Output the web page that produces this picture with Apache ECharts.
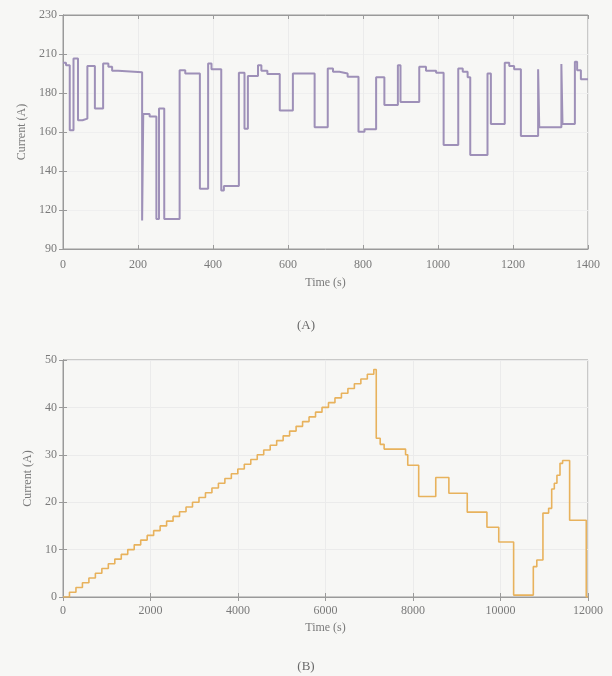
<!DOCTYPE html>
<html>
<head>
<meta charset="utf-8">
<script src="https://cdn.jsdelivr.net/npm/echarts@6/dist/echarts.min.js"></script>
<style>
  html, body { margin: 0; padding: 0; background: #f7f7f5; }
  #chart { width: 612px; height: 676px; }
</style>
</head>
<body>
<div id="chart"></div>
<script>
// (A) current profile, [time s, current A], value holds until next time
const currentA = [
  [0, 201.5], [8, 200], [18, 161], [28, 204], [40, 167], [52, 168], [65, 199.5],
  [85, 174], [107, 201], [121, 199], [131, 196.7], [147, 195.7], [211, 107],
  [214, 170.8], [231, 169.2], [249, 108], [256, 174], [270, 108], [311, 197],
  [326, 195], [365, 126], [387, 201], [396, 197.5], [422, 125], [429, 127.7],
  [469, 195.5], [484, 162], [493, 193.5], [520, 200], [529, 196.7], [545, 194.7],
  [578, 172.8], [613, 195], [671, 162.8], [706, 198], [720, 196], [737, 195],
  [759, 193], [788, 160.2], [804, 161.6], [835, 192.7], [857, 176.2], [893, 200],
  [900, 178], [950, 199], [968, 196.7], [995, 195.5], [1015, 152.2], [1054, 198],
  [1066, 196], [1079, 192.7], [1086, 146.2], [1132, 195], [1141, 164.8],
  [1178, 201.5], [1190, 199.5], [1203, 197.5], [1221, 157.6], [1267, 197.5],
  [1270, 162.8], [1329, 200.7], [1332, 164.8], [1365, 202], [1371, 197],
  [1381, 191.5], [1400, 191.5]
];
const yTicksA = [90, 120, 140, 160, 180, 210, 230];

// (B) staircase ramp then drive profile
const rampTimes = [
  0, 148, 296, 444, 592, 740, 888, 1036, 1184, 1332, 1480, 1628, 1776, 1924, 2072,
  2220, 2368, 2516, 2664, 2812, 2960, 3108, 3256, 3404, 3552, 3700, 3848, 3996,
  4144, 4292, 4440, 4588, 4736, 4884, 5032, 5180, 5328, 5476, 5624, 5772, 5920,
  6068, 6216, 6364, 6512, 6660, 6808, 6956, 7104
];
const rampLevels = [
  0, 1, 2, 3, 4, 5, 6, 7, 8, 9, 10, 11, 12, 13, 14, 15, 16, 17, 18, 19, 20, 21,
  22, 23, 24, 25, 26, 27, 28, 29, 30, 31, 32, 33, 34, 35, 36, 37, 38, 39, 40, 41,
  42, 43, 44, 45, 46, 47, 48
];
const driveB = [
  [7160, 33.5], [7250, 32.2], [7340, 31.2], [7830, 30], [7880, 27.8], [8130, 21.2],
  [8520, 25.2], [8820, 21.9], [9240, 17.9], [9690, 14.7], [9960, 11.6],
  [10300, 0.4], [10750, 6.4], [10830, 7.8], [10970, 17.7], [11100, 18.7],
  [11170, 22.8], [11230, 24], [11290, 25.7], [11360, 28.2], [11420, 28.8],
  [11580, 16.2], [11960, 0], [12000, 0]
];

const currentB = rampTimes.map((t, i) => [t, rampLevels[i]]).concat(driveB);

const serif = 'Liberation Serif';
const txt = '#7a7a7a';
const box = '#9a9a9a';

function xMain(grid, max, interval, margin, gap) {
  return {
    type: 'value', gridIndex: grid, min: 0, max: max, interval: interval,
    name: 'Time (s)', nameLocation: 'middle', nameGap: gap,
    nameTextStyle: { fontFamily: serif, fontSize: 12, color: txt },
    axisLine: { show: true, lineStyle: { color: box } },
    axisTick: { inside: true, length: 4, lineStyle: { color: box } },
    axisLabel: { fontFamily: serif, fontSize: 12, color: txt, margin: margin, formatter: v => String(v) },
    splitLine: { show: true, lineStyle: { color: '#ebebeb' } }
  };
}
function xMirror(grid, max, interval) {
  return {
    type: 'value', gridIndex: grid, position: 'top', min: 0, max: max, interval: interval,
    axisLine: { show: true, lineStyle: { color: box } },
    axisTick: { inside: true, length: 4, lineStyle: { color: box } },
    axisLabel: { show: false }, splitLine: { show: false }
  };
}

const tickPosA = yTicksA.map((v, i) => 90 + i * (230 - 90) / (yTicksA.length - 1));

const option = {
  backgroundColor: '#f7f7f5',
  animation: false,
  title: [
    { text: '(A)', left: 'center', top: 314, textStyle: { fontFamily: serif, fontSize: 13, fontWeight: 'normal', color: '#6a6a6a' } },
    { text: '(B)', left: 'center', top: 655, textStyle: { fontFamily: serif, fontSize: 13, fontWeight: 'normal', color: '#6a6a6a' } }
  ],
  grid: [
    { left: 63, right: 24, top: 15, height: 234, show: true, borderColor: box, backgroundColor: 'transparent' },
    { left: 63, right: 24, top: 360, height: 237, show: true, borderColor: box, backgroundColor: 'transparent' }
  ],
  xAxis: [
    xMain(0, 1400, 200, 10, 28),
    xMirror(0, 1400, 200),
    xMain(1, 12000, 2000, 8, 25),
    xMirror(1, 12000, 2000)
  ],
  yAxis: [
    {
      type: 'value', gridIndex: 0, min: 90, max: 230,
      name: 'Current (A)', nameLocation: 'middle', nameGap: 34,
      nameTextStyle: { fontFamily: serif, fontSize: 12, color: txt },
      axisLine: { show: true, lineStyle: { color: box } },
      axisTick: { inside: true, length: 4, customValues: tickPosA, lineStyle: { color: box } },
      axisLabel: {
        fontFamily: serif, fontSize: 12, color: txt, margin: 6,
        customValues: tickPosA,
        formatter: function (v) {
          let k = 0;
          tickPosA.forEach((p, i) => { if (Math.abs(p - v) < Math.abs(tickPosA[k] - v)) k = i; });
          return String(yTicksA[k]);
        }
      },
      splitLine: { show: true, lineStyle: { color: '#efefef' } }
    },
    {
      type: 'value', gridIndex: 0, position: 'right', min: 90, max: 230,
      axisLine: { show: true, lineStyle: { color: box } },
      axisTick: { inside: true, length: 4, customValues: tickPosA, lineStyle: { color: box } },
      axisLabel: { show: false }, splitLine: { show: false }
    },
    {
      type: 'value', gridIndex: 1, min: 0, max: 50, interval: 10,
      name: 'Current (A)', nameLocation: 'middle', nameGap: 28,
      nameTextStyle: { fontFamily: serif, fontSize: 12, color: txt },
      axisLine: { show: true, lineStyle: { color: box } },
      axisTick: { inside: true, length: 4, lineStyle: { color: box } },
      axisLabel: { fontFamily: serif, fontSize: 12, color: txt, margin: 6 },
      splitLine: { show: true, lineStyle: { color: '#ebebeb' } }
    },
    {
      type: 'value', gridIndex: 1, position: 'right', min: 0, max: 50, interval: 10,
      axisLine: { show: true, lineStyle: { color: box } },
      axisTick: { inside: true, length: 4, lineStyle: { color: box } },
      axisLabel: { show: false }, splitLine: { show: false }
    }
  ],
  series: [
    {
      type: 'line', xAxisIndex: 0, yAxisIndex: 0, step: 'end', symbol: 'none',
      data: currentA,
      lineStyle: { color: '#9e90b8', width: 2 }
    },
    {
      type: 'line', xAxisIndex: 2, yAxisIndex: 2, step: 'end', symbol: 'none',
      data: currentB,
      lineStyle: { color: '#e8b25c', width: 1.6 }
    }
  ]
};

const chart = echarts.init(document.getElementById('chart'));
chart.setOption(option);
</script>
</body>
</html>
